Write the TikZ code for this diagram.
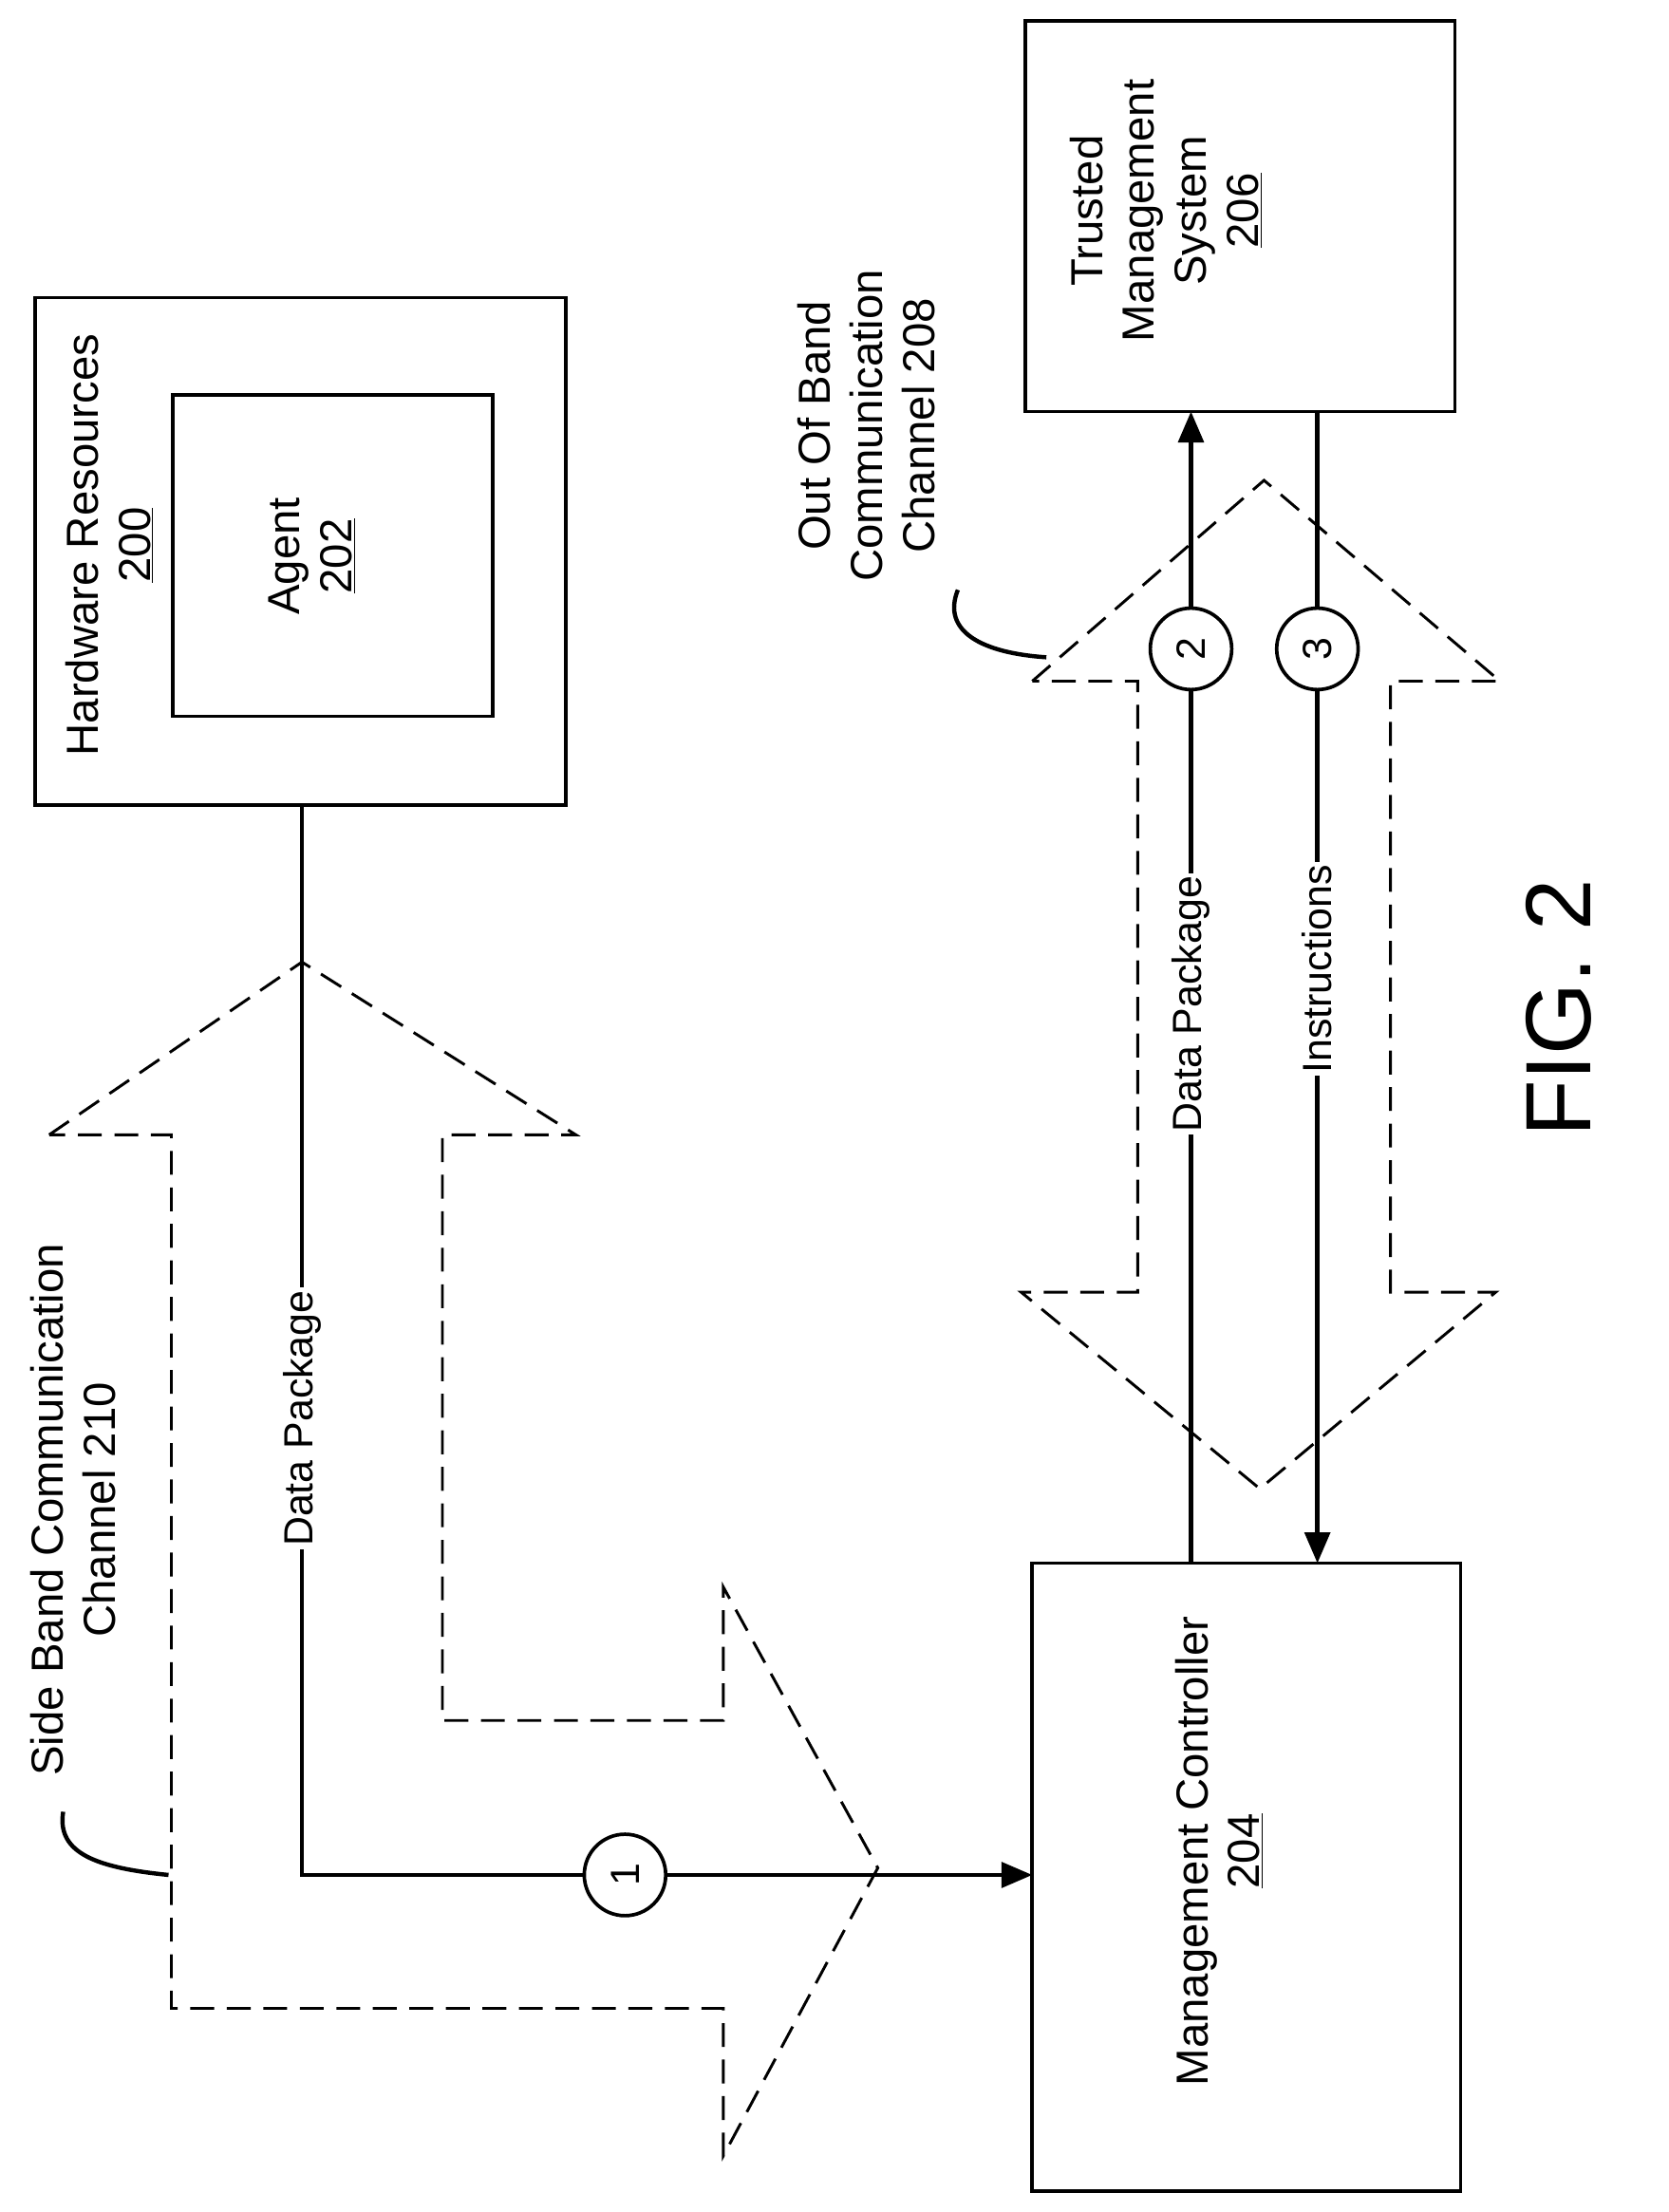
\documentclass[tikz,border=0pt]{standalone}
\usepackage{fontspec}
\setmainfont{Liberation Sans}
\usetikzlibrary{arrows.meta}
\begin{document}
\begin{tikzpicture}[x=1pt,y=1pt,
  box/.style={draw,line width=2.5pt},
  conn/.style={line width=3pt},
  dsh/.style={line width=2pt,dash pattern=on 17pt off 9pt},
  lbl/.style={rotate=90,font=\fontsize{32}{37}\selectfont,align=center},
  onl/.style={rotate=90,font=\fontsize{29}{34}\selectfont,fill=white,inner sep=2pt},
  num/.style={draw,circle,line width=2.5pt,minimum size=58pt,inner sep=0pt,fill=white,font=\fontsize{29}{34}\selectfont,rotate=90},
  tip/.style={-{Triangle[length=22pt,width=18pt]}}]
\useasboundingbox (0,0) rectangle (1188,-1575);
% boxes
\draw[box] (25,-212) rectangle (403,-573);
\node[box,minimum width=228pt,minimum height=229pt] (ag) at (237,-395.5) {};
\node[lbl] (agt) at (222,-396) {Agent\\\underline{202}};
\node[lbl] (hrt) at (78,-388) {Hardware Resources\\\underline{200}};
\coordinate (hr) at (215,-573);
\draw[box] (730,-15) rectangle (1036,-293);
\node[lbl] (tms) at (830,-150) {Trusted\\Management\\System\\\underline{206}};
\draw[box] (735,-1113) rectangle (1040,-1560);
\node[lbl] (mc) at (868,-1318) {Management Controller\\\underline{204}};
% dashed arrows
\draw[dsh] (35,-808) -- (215,-685) -- (410,-808) -- (315,-808) -- (315,-1225) -- (515,-1225) -- (515,-1130) -- (625,-1330) -- (515,-1535) -- (515,-1430) -- (122,-1430) -- (122,-808) -- cycle;
\draw[dsh] (735,-485) -- (900,-342) -- (1068,-485) -- (990,-485) -- (990,-920) -- (1065,-920) -- (897,-1060) -- (727,-920) -- (810,-920) -- (810,-485) -- cycle;
% connectors
\coordinate (c1) at (215,-1335);
\coordinate (mcl) at (735,-1335);
\draw[conn,tip] (hr) -- (c1) -- (mcl);
\node[onl] at (215,-1010) {Data Package};
\node[num] (n1) at (445,-1335) {1};
\coordinate (mct2) at (848,-1113);
\coordinate (tmb2) at (848,-293);
\draw[conn,tip] (mct2) -- (tmb2);
\node[onl] at (848,-715) {Data Package};
\node[num] (n2) at (848,-462) {2};
\coordinate (tmb3) at (938,-293);
\coordinate (mct3) at (938,-1113);
\draw[conn,tip] (tmb3) -- (mct3);
\node[onl] at (938,-690) {Instructions};
\node[num] (n3) at (938,-462) {3};
% labels with leaders
\node[lbl] (sb) at (52,-1075) {Side Band Communication\\Channel 210};
\draw[line width=3pt] (120,-1335) .. controls (70,-1330) and (40,-1320) .. (45,-1290);
\node[lbl] (ob) at (617,-303) {Out Of Band\\Communication\\Channel 208};
\draw[line width=3pt] (745,-468) .. controls (700,-465) and (670,-450) .. (682,-420);
\node[rotate=90,font=\fontsize{66}{70}\selectfont] (fig) at (1110,-718) {FIG. 2};
\end{tikzpicture}
\end{document}
